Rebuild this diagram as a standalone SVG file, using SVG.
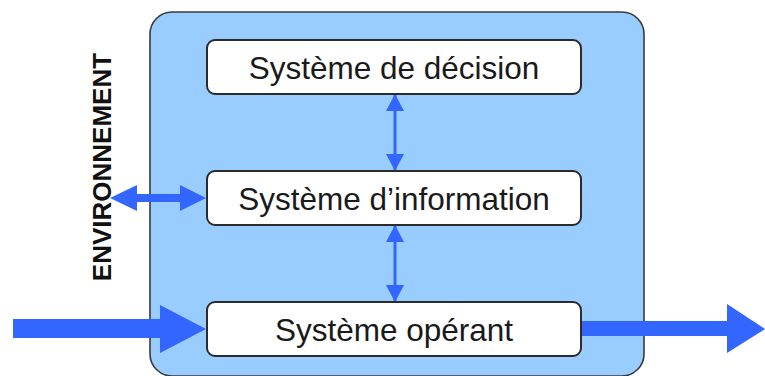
<svg xmlns="http://www.w3.org/2000/svg" width="765" height="376" viewBox="0 0 765 376">
  <defs>
    <style>
      .frame { fill: #99CCFF; stroke: #3a3a3a; stroke-width: 1.6; }
      .node rect { fill: #ffffff; stroke: #2b2b2b; stroke-width: 2; }
      .node text { font-family: "Liberation Sans", Arial, sans-serif; font-size: 31.5px; fill: #1a1a1a; text-anchor: middle; }
      .flow { fill: #3366FF; stroke: none; }
      .link { stroke: #3366FF; stroke-width: 3; fill: none; }
      .env { font-family: "Liberation Sans", Arial, sans-serif; font-weight: bold; font-size: 26px; fill: #111111; text-anchor: middle; }
    </style>
    <marker id="headThin" markerUnits="userSpaceOnUse" markerWidth="18" markerHeight="18" viewBox="0 0 18 18" refX="16" refY="9" orient="auto-start-reverse">
      <path d="M0,0 L17,9 L0,18 Z" fill="#3366FF"/>
    </marker>
  </defs>

  <rect class="frame" x="150" y="12" width="494" height="364" rx="22" ry="22"/>

  <text class="env" transform="translate(111,167) rotate(-90)">ENVIRONNEMENT</text>

  <g id="connectors">
    <!-- decision <-> information -->
    <line class="link" x1="395" y1="95" x2="395" y2="170" marker-start="url(#headThin)" marker-end="url(#headThin)"/>
    <!-- information <-> operant -->
    <line class="link" x1="395" y1="226" x2="395" y2="301" marker-start="url(#headThin)" marker-end="url(#headThin)"/>
    <!-- environment <-> information -->
    <path class="flow" d="M110,198 L137,185 L137,194 L180,194 L180,185 L206,198 L180,211 L180,202 L137,202 L137,211 Z"/>
    <!-- input flow -->
    <path class="flow" d="M13,319 L160,319 L160,305 L206,329 L160,353 L160,338 L13,338 Z"/>
    <!-- output flow -->
    <path class="flow" d="M581,321 L727,321 L727,304 L765,329 L727,353 L727,336 L581,336 Z"/>
  </g>

  <g id="decision" class="node">
    <rect x="207" y="40" width="374" height="54" rx="8" ry="8"/>
    <text x="394" y="79">Système de décision</text>
  </g>

  <g id="information" class="node">
    <rect x="207" y="171" width="374" height="54" rx="8" ry="8"/>
    <text x="394" y="210">Système d’information</text>
  </g>

  <g id="operant" class="node">
    <rect x="207" y="302" width="374" height="54" rx="8" ry="8"/>
    <text x="394" y="341">Système opérant</text>
  </g>
</svg>
